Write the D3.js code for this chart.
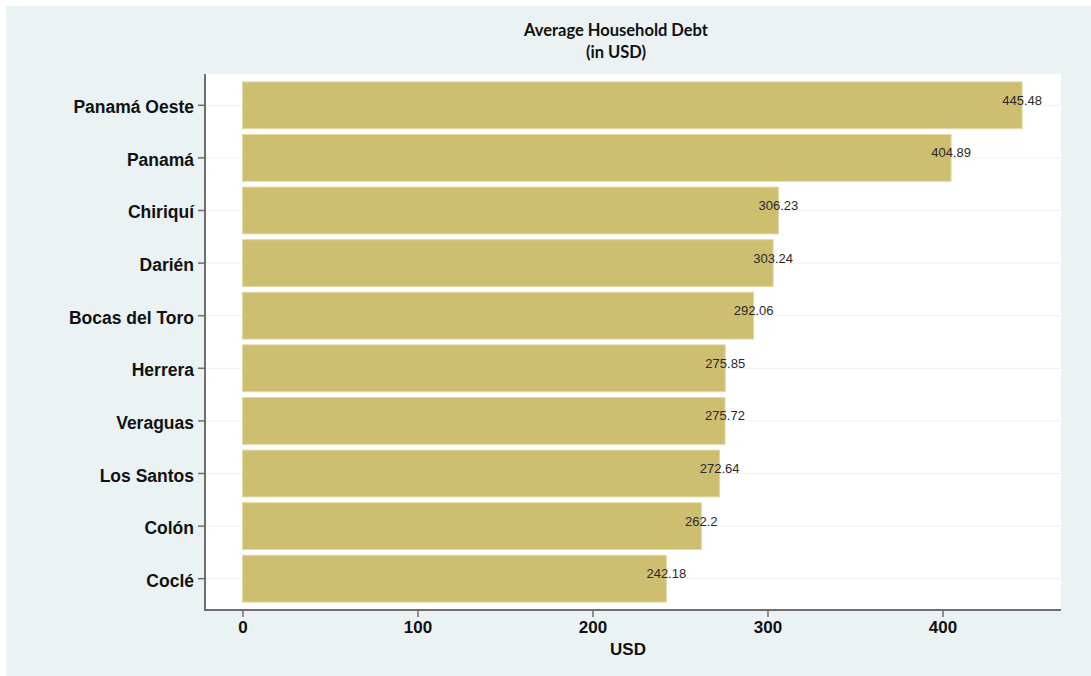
<!DOCTYPE html>
<html><head><meta charset="utf-8">
<script src="https://cdn.jsdelivr.net/npm/d3@7"></script>
<style>html,body{margin:0;padding:0;background:#fff;}svg{display:block;}</style>
</head><body>
<svg id="chart" width="1091" height="676"></svg>
<script>
const categories = ["Panamá Oeste","Panamá","Chiriquí","Darién","Bocas del Toro","Herrera","Veraguas","Los Santos","Colón","Coclé"];
const values = [445.48,404.89,306.23,303.24,292.06,275.85,275.72,272.64,262.2,242.18];
const valueLabels = ["445.48","404.89","306.23","303.24","292.06","275.85","275.72","272.64","262.2","242.18"];
const xTicks = [0,100,200,300,400];
const titleLines = ["Average Household Debt","(in USD)"];
const xTitle = "USD";

(function(){
const svg = d3.select("#chart");
svg.append("rect").attr("x",6).attr("y",6).attr("width",1085).attr("height",670).attr("fill","#eaf2f3");

const pL=205, pR=1061, pT=74, pB=610;
const x = d3.scaleLinear().domain([-21.4,467.7]).range([pL,pR]);
const y = d3.scaleBand().domain(categories).range([pT,pB]).paddingInner(0.11).paddingOuter(0.15);

svg.append("rect").attr("x",pL).attr("y",pT).attr("width",pR-pL).attr("height",pB-pT).attr("fill","#fff");

// gridlines
svg.append("g").selectAll("line").data(categories).join("line")
  .attr("x1",pL).attr("x2",pR)
  .attr("y1",d=>y(d)+y.bandwidth()/2).attr("y2",d=>y(d)+y.bandwidth()/2)
  .attr("stroke","#eaf2f3").attr("stroke-width",1);

// bars
svg.append("g").selectAll("rect").data(values).join("rect")
  .attr("x",x(0)).attr("y",(d,i)=>y(categories[i]))
  .attr("width",d=>x(d)-x(0)).attr("height",y.bandwidth())
  .attr("fill","#cebe70").attr("stroke","#e2d8a6").attr("stroke-width",1);

// value labels
svg.append("g").selectAll("text").data(values).join("text")
  .attr("x",d=>x(d)).attr("y",(d,i)=>y(categories[i])+y.bandwidth()/2-5)
  .attr("text-anchor","middle").attr("dominant-baseline","central")
  .attr("font-family","Liberation Sans, Arial, sans-serif").attr("font-size",13)
  .attr("fill","#2a2a2a").text((d,i)=>valueLabels[i]);

// y axis
const yAxis = svg.append("g").attr("transform",`translate(${pL},0)`)
  .call(d3.axisLeft(y).tickSize(7).tickPadding(4));
yAxis.select(".domain").attr("stroke","#6e6e6e").attr("stroke-width",2).attr("d",`M0,${pT}V${pB}`);
yAxis.selectAll(".tick line").attr("stroke","#6e6e6e").attr("stroke-width",1.5);
yAxis.selectAll(".tick text").attr("dy","8px").attr("font-family","Liberation Sans, Arial, sans-serif").attr("font-size",17.5).attr("font-weight","bold").attr("fill","#111");

// x axis
const xAxis = svg.append("g").attr("transform",`translate(0,${pB})`)
  .call(d3.axisBottom(x).tickValues(xTicks).tickSize(7).tickPadding(4).tickFormat(d3.format("d")));
xAxis.select(".domain").attr("stroke","#6e6e6e").attr("stroke-width",2).attr("d",`M${pL-1},0H${pR}`);
xAxis.selectAll(".tick line").attr("stroke","#6e6e6e").attr("stroke-width",1.5);
xAxis.selectAll(".tick text").attr("font-family","Liberation Sans, Arial, sans-serif").attr("font-size",17).attr("font-weight","bold").attr("fill","#111");

svg.append("text").attr("x",628).attr("y",649).attr("text-anchor","middle").attr("dominant-baseline","central")
  .attr("font-family","Liberation Sans, Arial, sans-serif").attr("font-size",17).attr("font-weight","bold").attr("fill","#111").text(xTitle);

svg.append("g").selectAll("text").data(titleLines).join("text")
  .attr("x",616).attr("y",(d,i)=>30+i*22).attr("text-anchor","middle").attr("dominant-baseline","central")
  .attr("font-family","Lato, Open Sans, sans-serif").attr("font-size",16.5).attr("font-weight","bold").attr("fill","#111").text(d=>d);
})();
</script>
</body></html>
